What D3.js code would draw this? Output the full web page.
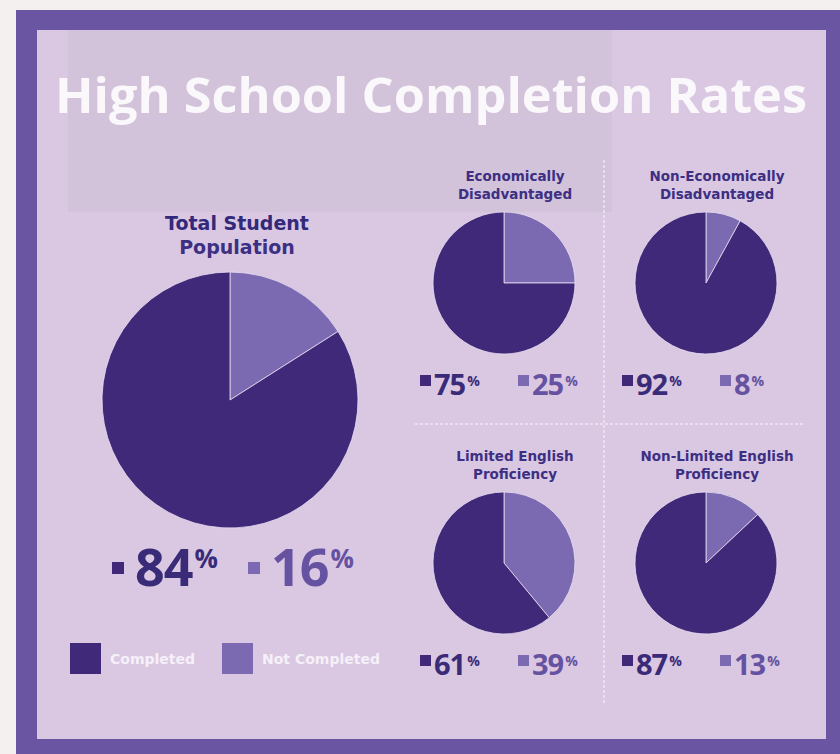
<!DOCTYPE html>
<html>
<head>
<meta charset="utf-8">
<script src="https://cdn.jsdelivr.net/npm/d3@7/dist/d3.min.js"></script>
<style>
  body { margin: 0; background: #f3f0ef; }
  svg { display: block; }
</style>
</head>
<body>
<div id="chart"></div>
<script>
// data
var groups = ["Total Student Population", "Economically Disadvantaged", "Non-Economically Disadvantaged",
              "Limited English Proficiency", "Non-Limited English Proficiency"];
var titleLines = [["Total Student", "Population"], ["Economically", "Disadvantaged"],
                  ["Non-Economically", "Disadvantaged"], ["Limited English", "Proficiency"],
                  ["Non-Limited English", "Proficiency"]];
var completed = [84, 75, 92, 61, 87];
var notCompleted = [16, 25, 8, 39, 13];
var legendNames = ["Completed", "Not Completed"];

var width = 840, height = 754;
var darkCol = "#3f2978", lightCol = "#7b69b2";
var numDark = "#3a2b78", numLight = "#6552a0";
var font = "'Open Sans', 'DejaVu Sans', sans-serif";
var headFont = "'DejaVu Sans', sans-serif";

var svg = d3.select("#chart").append("svg")
    .attr("width", width)
    .attr("height", height);

// frame
svg.append("rect").attr("x", 16).attr("y", 10).attr("width", 824).attr("height", 744).style("fill", "#6a55a2");
svg.append("rect").attr("x", 37).attr("y", 30).attr("width", 789).attr("height", 709).style("fill", "#dac8e3");
// greyish panel behind title
svg.append("rect").attr("x", 68).attr("y", 30).attr("width", 544).attr("height", 182)
    .style("fill", "#cfc1d8").style("opacity", 0.75);

// divider lines
svg.append("line").attr("x1", 604).attr("x2", 604).attr("y1", 160).attr("y2", 705)
    .style("stroke", "#efe6f3").style("stroke-width", 1.5).style("stroke-dasharray", "3,2");
svg.append("line").attr("x1", 415).attr("x2", 805).attr("y1", 424).attr("y2", 424)
    .style("stroke", "#efe6f3").style("stroke-width", 1.5).style("stroke-dasharray", "3,2");

// title
svg.append("text")
    .attr("x", 55)
    .attr("y", 113)
    .attr("textLength", 752)
    .attr("lengthAdjust", "spacingAndGlyphs")
    .text("High School Completion Rates")
    .style("font-family", font)
    .style("font-size", "48px")
    .style("font-weight", "bold")
    .style("fill", "#fbf8fc");

// pie positions: big one on the left, four small in a 2x2 grid
var colX = d3.scalePoint().domain([0, 1]).range([504, 706]);
var rowY = d3.scalePoint().domain([0, 1]).range([283, 563]);
var layout = [{cx: 230, cy: 400, r: 128, big: true}];
for (var i = 1; i < groups.length; i++) {
  layout.push({cx: colX((i - 1) % 2), cy: rowY(Math.floor((i - 1) / 2)), r: 71, big: false});
}

var pie = d3.pie().sort(null).value(function(d) { return d.v; });
var arc = d3.arc().innerRadius(0);

groups.forEach(function(name, i) {
  var L = layout[i];
  var g = svg.append("g").attr("transform", "translate(" + L.cx + "," + L.cy + ")");
  var slices = pie([{k: "not", v: notCompleted[i]}, {k: "done", v: completed[i]}]);
  g.selectAll("path").data(slices).enter().append("path")
      .attr("d", function(d) { return arc.outerRadius(L.r)(d); })
      .style("fill", function(d) { return d.data.k === "done" ? darkCol : lightCol; })
      .style("stroke", "#e9def0")
      .style("stroke-width", 0.8);

  // heading
  var fs = L.big ? 19 : 13.5;
  var hx = L.big ? 7 : 11;
  var hy = L.big ? -170 : -102;
  var lh = L.big ? 24 : 18;
  titleLines[i].forEach(function(t, j) {
    g.append("text")
        .attr("x", hx)
        .attr("y", hy + j * lh)
        .attr("text-anchor", "middle")
        .text(t)
        .style("font-family", headFont)
        .style("font-size", fs + "px")
        .style("font-weight", "bold")
        .style("fill", j === 0 && L.big ? "#33297a" : "#3d2f82");
  });

  // value labels
  var vals = [completed[i], notCompleted[i]];
  var offs = L.big ? [-118, 18] : [-84, 14];
  var ly = L.big ? 186 : 112;
  var numSize = L.big ? 52 : 29;
  var pctSize = L.big ? 26 : 14;
  var sq = L.big ? 12 : 11;
  vals.forEach(function(v, j) {
    var x0 = offs[j];
    g.append("rect")
        .attr("x", x0)
        .attr("y", ly - (L.big ? 24 : 20))
        .attr("width", sq).attr("height", sq)
        .style("fill", j === 0 ? darkCol : lightCol);
    var t = g.append("text")
        .attr("x", x0 + sq + (L.big ? 11 : 3))
        .attr("y", ly)
        .style("font-family", font)
        .style("font-weight", "bold")
        .style("fill", j === 0 ? numDark : numLight);
    t.append("tspan").text(v).style("font-size", numSize + "px").attr("letter-spacing", "-1");
    t.append("tspan").text("%").style("font-size", pctSize + "px")
        .attr("dx", 2)
        .attr("dy", L.big ? -18 : -9);
  });
});

// legend
var legX = d3.scaleOrdinal().domain(legendNames).range([70, 222]);
var leg = svg.selectAll("g.legend").data(legendNames).enter().append("g").attr("class", "legend");
leg.append("rect")
    .attr("x", function(d) { return legX(d); })
    .attr("y", 643)
    .attr("width", 31).attr("height", 31)
    .style("fill", function(d, i) { return i === 0 ? darkCol : lightCol; });
leg.append("text")
    .attr("x", function(d) { return legX(d) + 40; })
    .attr("y", 664)
    .text(function(d) { return d; })
    .style("font-family", headFont)
    .style("font-size", "14px")
    .style("font-weight", "bold")
    .style("fill", "#f6f0f8");
</script>
</body>
</html>
